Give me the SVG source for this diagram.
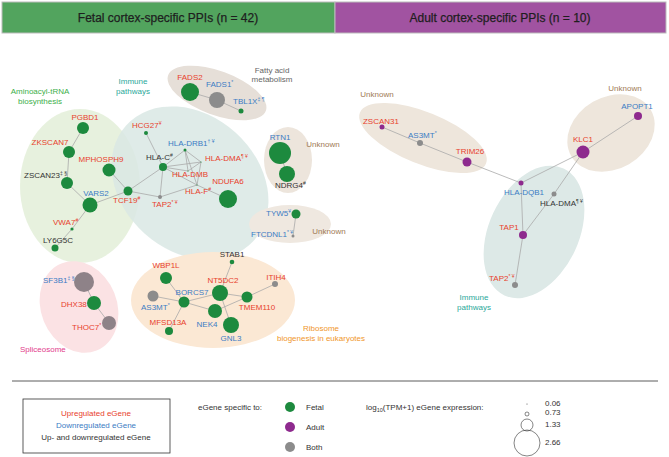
<svg xmlns="http://www.w3.org/2000/svg" width="669" height="457" viewBox="0 0 669 457">
<style>
text{font-family:"Liberation Sans",Arial,sans-serif;font-size:8px}
.r{fill:#e8412c}.b{fill:#3b7cc4}.k{fill:#333}
.f{fill:#1d8a3e}.a{fill:#8e2a8e}.g{fill:#8c8c8c}
.e line{stroke:#a9a9a9;stroke-width:0.8}
.h{font-size:12px;fill:#1e1e1e;stroke:#1e1e1e;stroke-width:0.25}
.grp{font-size:8.5px}
.m{text-anchor:middle}
</style>
<rect x="2" y="2" width="333" height="31" fill="#52a45e" stroke="#bbb"/>
<rect x="335" y="2" width="331" height="31" fill="#a153a1" stroke="#bbb"/>
<text class="h m" x="168" y="22">Fetal cortex-specific PPIs (n = 42)</text>
<text class="h m" x="500" y="22">Adult cortex-specific PPIs (n = 10)</text>

<g id="clusters">
<ellipse cx="80" cy="186" rx="60" ry="77" fill="#e4f0da" opacity="0.9"/>
<ellipse cx="190" cy="183" rx="86" ry="68" transform="rotate(42 190 183)" fill="#d9e7e4" opacity="0.85"/>
<ellipse cx="217" cy="93" rx="52" ry="22" transform="rotate(20 217 93)" fill="#e6dfd8"/>
<ellipse cx="288" cy="160" rx="24" ry="33" fill="#ede5dc"/>
<ellipse cx="290" cy="224" rx="41" ry="19" fill="#efe8e0"/>
<ellipse cx="213" cy="300" rx="82" ry="48" fill="#fbe8d4"/>
<ellipse cx="79" cy="307" rx="38" ry="47" transform="rotate(-22 79 307)" fill="#fbe2e4"/>
<ellipse cx="423" cy="138" rx="68" ry="26" transform="rotate(22 423 138)" fill="#eee6dc"/>
<ellipse cx="611" cy="133" rx="46" ry="36" transform="rotate(-30 611 133)" fill="#eee6dc"/>
<ellipse cx="534" cy="232" rx="45" ry="70" transform="rotate(25 534 232)" fill="#dde9e7"/>
</g>

<g id="group-labels" class="grp">
<text class="m" x="40" y="94" fill="#3daf4a">Aminoacyl-tRNA</text>
<text class="m" x="40" y="104" fill="#3daf4a">biosynthesis</text>
<text class="m" x="133" y="84" fill="#2aa89a">Immune</text>
<text class="m" x="133" y="94" fill="#2aa89a">pathways</text>
<text class="m" x="272" y="73" fill="#666">Fatty acid</text>
<text class="m" x="272" y="82" fill="#666">metabolism</text>
<text class="m" x="323" y="147" fill="#a07a55">Unknown</text>
<text class="m" x="329" y="234" fill="#a07a55">Unknown</text>
<text class="m" x="321" y="331" fill="#f0962a">Ribosome</text>
<text class="m" x="321" y="341" fill="#f0962a">biogenesis in eukaryotes</text>
<text x="20" y="352" fill="#e23c8c">Spliceosome</text>
<text class="m" x="377" y="97" fill="#a07a55">Unknown</text>
<text class="m" x="625" y="91" fill="#a07a55">Unknown</text>
<text class="m" x="474" y="300" fill="#2aa89a">Immune</text>
<text class="m" x="474" y="310" fill="#2aa89a">pathways</text>
</g>

<g id="connectors" class="e">
<line x1="83" y1="128" x2="69" y2="152"/>
<line x1="69" y1="152" x2="67" y2="183"/>
<line x1="67" y1="183" x2="90" y2="205"/>
<line x1="90" y1="205" x2="128" y2="191"/>
<line x1="109" y1="170" x2="128" y2="191"/>
<line x1="90" y1="205" x2="72" y2="229"/>
<line x1="72" y1="229" x2="55" y2="248"/>
<line x1="128" y1="191" x2="163" y2="167"/>
<line x1="128" y1="191" x2="160" y2="197"/>
<line x1="160" y1="197" x2="163" y2="167"/>
<line x1="160" y1="197" x2="197" y2="185"/>
<line x1="146" y1="133" x2="163" y2="167"/>
<line x1="163" y1="167" x2="185" y2="150"/>
<line x1="163" y1="167" x2="201" y2="162"/>
<line x1="163" y1="167" x2="188" y2="171"/>
<line x1="163" y1="167" x2="197" y2="185"/>
<line x1="185" y1="150" x2="201" y2="162"/>
<line x1="185" y1="150" x2="188" y2="171"/>
<line x1="185" y1="150" x2="197" y2="185"/>
<line x1="201" y1="162" x2="197" y2="185"/>
<line x1="188" y1="171" x2="201" y2="162"/>
<line x1="197" y1="185" x2="228" y2="199"/>
<line x1="190" y1="92" x2="217" y2="100"/>
<line x1="217" y1="100" x2="241" y2="111"/>
<line x1="280" y1="153" x2="287" y2="174"/>
<line x1="296" y1="214" x2="293" y2="236"/>
<line x1="166" y1="278" x2="184" y2="302"/>
<line x1="153" y1="296" x2="184" y2="302"/>
<line x1="184" y1="302" x2="169" y2="331"/>
<line x1="184" y1="302" x2="220" y2="293"/>
<line x1="184" y1="302" x2="215" y2="311"/>
<line x1="220" y1="293" x2="232" y2="262"/>
<line x1="220" y1="293" x2="247" y2="297"/>
<line x1="220" y1="293" x2="231" y2="325"/>
<line x1="215" y1="311" x2="247" y2="297"/>
<line x1="247" y1="297" x2="275" y2="284"/>
<line x1="84" y1="282" x2="94" y2="303"/>
<line x1="94" y1="303" x2="109" y2="323"/>
<line x1="382" y1="127" x2="420" y2="143"/>
<line x1="420" y1="143" x2="467" y2="162"/>
<line x1="467" y1="162" x2="521" y2="183"/>
<line x1="521" y1="183" x2="583" y2="152"/>
<line x1="583" y1="152" x2="638" y2="116"/>
<line x1="583" y1="152" x2="554" y2="194"/>
<line x1="554" y1="194" x2="523" y2="235"/>
<line x1="521" y1="183" x2="523" y2="235"/>
<line x1="523" y1="235" x2="515" y2="285"/>
</g>

<g id="PGBD1"><circle class="f" cx="83" cy="128" r="6"/><text class="r m" x="85" y="120">PGBD1</text></g>
<g id="ZKSCAN7"><circle class="f" cx="69" cy="152" r="6"/><text class="r m" x="50" y="145">ZKSCAN7</text></g>
<g id="ZSCAN23"><circle class="f" cx="67" cy="183" r="6"/><text class="k" x="24" y="178">ZSCAN23<tspan font-size="5" dy="-3">‡ §</tspan></text></g>
<g id="MPHOSPH9"><circle class="f" cx="109" cy="170" r="6.5"/><text class="r m" x="101" y="162">MPHOSPH9</text></g>
<g id="VARS2"><circle class="f" cx="90" cy="205" r="7.5"/><text class="b m" x="96" y="196">VARS2</text></g>
<g id="TCF19"><circle class="f" cx="128" cy="191" r="4.5"/><text class="r" x="113" y="203">TCF19<tspan font-size="5" dy="-3">#</tspan></text></g>
<g id="VWA7"><circle class="f" cx="72" cy="229" r="1.6"/><text class="r" x="53" y="225">VWA7<tspan font-size="5" dy="-3">#</tspan></text></g>
<g id="LY6G5C"><circle class="f" cx="55" cy="248" r="3.5"/><text class="k m" x="58" y="243">LY6G5C</text></g>
<g id="HCG27"><circle class="f" cx="146" cy="133" r="2"/><text class="r" x="132" y="128">HCG27<tspan font-size="5" dy="-3">¥</tspan></text></g>
<g id="HLA-C"><circle class="f" cx="163" cy="167" r="4"/><text class="k" x="146" y="160">HLA-C<tspan font-size="5" dy="-3">#</tspan></text></g>
<g id="HLA-DRB1"><circle class="f" cx="185" cy="150" r="1.5"/><text class="b" x="168" y="146">HLA-DRB1<tspan font-size="5" dy="-3">† ¥</tspan></text></g>
<g id="HLA-DMA-f"><circle class="f" cx="201" cy="162" r="0.6"/><text class="r" x="205" y="161">HLA-DMA<tspan font-size="5" dy="-3">¶ ¥</tspan></text></g>
<g id="HLA-DMB"><circle class="f" cx="188" cy="171" r="0.6"/><text class="r" x="172" y="177">HLA-DMB</text></g>
<g id="HLA-F"><circle class="f" cx="197" cy="185" r="0.6"/><text class="r" x="185" y="194">HLA-F<tspan font-size="5" dy="-3">#</tspan></text></g>
<g id="TAP2-f"><circle class="g" cx="160" cy="197" r="2"/><text class="r" x="152" y="207">TAP2<tspan font-size="5" dy="-3">* ¥</tspan></text></g>
<g id="NDUFA6"><circle class="f" cx="228" cy="199" r="9"/><text class="r m" x="228" y="184">NDUFA6</text></g>
<g id="FADS2"><circle class="f" cx="190" cy="92" r="9"/><text class="r m" x="190" y="80">FADS2</text></g>
<g id="FADS1"><circle class="g" cx="217" cy="100" r="8"/><text class="b" x="206" y="87">FADS1<tspan font-size="5" dy="-3">*</tspan></text></g>
<g id="TBL1X"><circle class="f" cx="241" cy="111" r="2.5"/><text class="b" x="233" y="104">TBL1X<tspan font-size="5" dy="-3">‡ ¶</tspan></text></g>
<g id="RTN1"><circle class="f" cx="280" cy="153" r="11"/><text class="b m" x="280" y="140">RTN1</text></g>
<g id="NDRG4"><circle class="f" cx="287" cy="174" r="8"/><text class="k" x="275" y="188">NDRG4<tspan font-size="5" dy="-3">#</tspan></text></g>
<g id="TYW5"><circle class="f" cx="296" cy="214" r="4.5"/><text class="b" x="266" y="216">TYW5<tspan font-size="5" dy="-3">¥</tspan></text></g>
<g id="FTCDNL1"><circle class="g" cx="293" cy="236" r="1.5"/><text class="b" x="251" y="237">FTCDNL1<tspan font-size="5" dy="-3">* ¥</tspan></text></g>

<g id="STAB1"><circle class="f" cx="232" cy="262" r="2.3"/><text class="k m" x="232" y="257">STAB1</text></g>
<g id="WBP1L"><circle class="f" cx="166" cy="278" r="6"/><text class="r m" x="166" y="268">WBP1L</text></g>
<g id="NT5DC2"><circle class="f" cx="220" cy="293" r="8"/><text class="r m" x="223" y="283">NT5DC2</text></g>
<g id="ITIH4"><circle class="g" cx="275" cy="284" r="3"/><text class="r m" x="276" y="280">ITIH4</text></g>
<g id="AS3MT-f"><circle class="g" cx="153" cy="296" r="5.5"/><text class="b" x="141" y="310">AS3MT<tspan font-size="5" dy="-3">*</tspan></text></g>
<g id="BORCS7"><circle class="f" cx="184" cy="302" r="5.5"/><text class="b m" x="192" y="295">BORCS7</text></g>
<g id="TMEM110"><circle class="f" cx="247" cy="297" r="5.5"/><text class="r m" x="257" y="310">TMEM110</text></g>
<g id="NEK4"><circle class="f" cx="215" cy="311" r="7"/><text class="b m" x="207" y="327">NEK4</text></g>
<g id="GNL3"><circle class="f" cx="231" cy="325" r="8"/><text class="b m" x="231" y="341">GNL3</text></g>
<g id="MFSD13A"><circle class="f" cx="169" cy="331" r="4"/><text class="r m" x="168" y="325">MFSD13A</text></g>

<g id="SF3B1"><circle fill="#8e8288" cx="84" cy="282" r="10"/><text class="b" x="43" y="283">SF3B1<tspan font-size="5" dy="-3">‡ §</tspan></text></g>
<g id="DHX38"><circle class="f" cx="94" cy="303" r="7"/><text class="r" x="61" y="307">DHX38</text></g>
<g id="THOC7"><circle fill="#8e8288" cx="109" cy="323" r="7"/><text class="r" x="72" y="330">THOC7<tspan font-size="5" dy="-3">*</tspan></text></g>

<g id="ZSCAN31"><circle class="a" cx="382" cy="127" r="2.5"/><text class="r m" x="381" y="124">ZSCAN31</text></g>
<g id="AS3MT-a"><circle class="g" cx="420" cy="143" r="3"/><text class="b" x="408" y="138">AS3MT<tspan font-size="5" dy="-3">*</tspan></text></g>
<g id="TRIM26"><circle class="a" cx="467" cy="162" r="4.5"/><text class="r m" x="470" y="154">TRIM26</text></g>
<g id="HLA-DQB1"><circle class="a" cx="521" cy="183" r="2.5"/><text class="b m" x="524" y="195">HLA-DQB1</text></g>
<g id="HLA-DMA-a"><circle class="g" cx="554" cy="194" r="2.5"/><text class="k" x="540" y="206">HLA-DMA<tspan font-size="5" dy="-3">¶ ¥</tspan></text></g>
<g id="KLC1"><circle class="a" cx="583" cy="152" r="6.5"/><text class="r m" x="583" y="142">KLC1</text></g>
<g id="APOPT1"><circle class="a" cx="638" cy="116" r="4"/><text class="b m" x="637" y="109">APOPT1</text></g>
<g id="TAP1"><circle class="a" cx="523" cy="235" r="4"/><text class="r m" x="509" y="230">TAP1</text></g>
<g id="TAP2-a"><circle class="g" cx="515" cy="285" r="3"/><text class="r" x="489" y="281">TAP2<tspan font-size="5" dy="-3">* ¥</tspan></text></g>

<g id="legend">
<line x1="12" y1="381" x2="658" y2="381" stroke="#333" stroke-width="0.8"/>
<rect x="23" y="399" width="147" height="54" fill="#fff" stroke="#333" stroke-width="0.8"/>
<text class="r m" x="96" y="416" font-size="8.5">Upregulated eGene</text>
<text class="b m" x="96" y="428" font-size="8.5">Downregulated eGene</text>
<text class="k m" x="96" y="440" font-size="8.5">Up- and downregulated eGene</text>
<text class="k" x="198" y="410" font-size="8.5">eGene specific to:</text>
<circle class="f" cx="290" cy="407" r="5"/><text class="k" x="306" y="410" font-size="8.5">Fetal</text>
<circle class="a" cx="290" cy="427" r="5"/><text class="k" x="306" y="430" font-size="8.5">Adult</text>
<circle class="g" cx="290" cy="447" r="5"/><text class="k" x="306" y="450" font-size="8.5">Both</text>
<text class="k" x="366" y="410" font-size="8.5">log<tspan font-size="5.5" dy="2">10</tspan><tspan dy="-2">(TPM+1) eGene expression:</tspan></text>
<circle cx="527" cy="404" r="0.5" fill="#333"/>
<circle cx="527" cy="414" r="2" fill="none" stroke="#333" stroke-width="0.6"/>
<circle cx="527" cy="425" r="6" fill="none" stroke="#333" stroke-width="0.6"/>
<circle cx="527" cy="443" r="13" fill="none" stroke="#333" stroke-width="0.6"/>
<text class="k" x="545" y="406" font-size="7">0.06</text>
<text class="k" x="545" y="415" font-size="7">0.73</text>
<text class="k" x="545" y="427" font-size="7">1.33</text>
<text class="k" x="545" y="445" font-size="7">2.66</text>
</g>
</svg>
